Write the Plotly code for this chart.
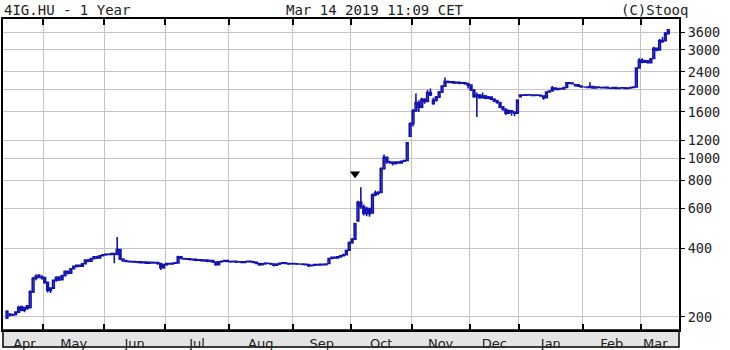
import math
import pandas as pd
import plotly.graph_objects as go

# ---------------- data ----------------
start_date = "2018-04-11"
end_date = "2019-03-14"
exchange_holidays = ["2018-04-30", "2018-05-01", "2018-05-21", "2018-08-20",
                     "2018-10-22", "2018-10-23", "2018-11-01", "2018-11-02",
                     "2018-12-24", "2018-12-25", "2018-12-26", "2018-12-31",
                     "2019-01-01"]

opens = [
    # Apr
    198, 206, 204, 205, 210, 222, 214, 224, 220, 258, 296, 306, 300,
    # May
    298, 284, 262, 268, 290, 300, 292, 304, 318, 312, 326, 334, 338, 335, 343, 356, 352, 362, 368, 364, 372,
    # Jun
    376, 378, 377, 380, 378, 396, 360, 354, 352, 350, 351, 349, 350, 347, 349, 345, 348, 346, 347, 344, 330,
    # Jul
    340, 344, 342, 345, 346, 368, 362, 360, 361, 358, 359, 356, 357, 354, 356, 352, 354, 349, 340, 350, 352, 354,
    # Aug
    351, 350, 352, 349, 350, 348, 350, 352, 350, 348, 344, 340, 343, 345, 344, 342, 338, 342, 345, 346, 344, 343,
    # Sep
    344, 343, 342, 342, 341, 340, 336, 338, 340, 339, 341, 340, 344, 362, 366, 364, 368, 372, 376, 394,
    # Oct
    425, 440, 530, 640, 612, 572, 600, 575, 690, 702, 708, 900, 1010, 965, 958, 948, 962, 955, 970, 978, 1250,
    # Nov
    1420, 1620, 1760, 1680, 1820, 1780, 1950, 1740, 1800, 1860, 1960, 2080, 2180, 2160, 2170, 2150, 2160, 2140, 2150, 2130,
    # Dec
    2100, 2000, 1870, 1900, 1850, 1880, 1840, 1860, 1820, 1790, 1760, 1680, 1640, 1580, 1620, 1600, 1580,
    # Jan
    1870, 1900, 1895, 1905, 1900, 1890, 1900, 1895, 1880, 1850, 1960, 1980, 2040, 2010, 2030, 2020, 2050, 2150, 2140, 2090, 2110, 2080,
    # Feb
    2060, 2060, 2050, 2070, 2040, 2060, 2050, 2045, 2055, 2040, 2035, 2050, 2030, 2040, 2045, 2030, 2040, 2050, 2060, 2500,
    # Mar
    2700, 2650, 2690, 2640, 2750, 3050, 3000, 3300, 3300, 3550,
]
highs = [
    214, 207, 206, 212, 224, 224, 221, 226, 262, 300, 308, 308, 305,
    300, 286, 270, 292, 302, 302, 306, 320, 320, 328, 336, 340, 340, 345, 358, 360, 364, 370, 372, 374, 378,
    380, 381, 382, 384, 450, 398, 362, 356, 355, 354, 353, 352, 352, 351, 351, 350, 350, 349, 349, 346, 342,
    346, 347, 346, 348, 372, 370, 365, 364, 363, 362, 361, 360, 359, 358, 357, 356, 356, 351, 352, 355, 356, 356,
    354, 355, 354, 353, 352, 352, 355, 354, 352, 350, 346, 345, 348, 347, 346, 344, 344, 347, 349, 348, 346, 347,
    346, 345, 345, 344, 343, 342, 340, 342, 342, 343, 343, 344, 364, 369, 368, 371, 375, 380, 396, 430,
    445, 520, 650, 745, 625, 612, 606, 700, 722, 716, 912, 1040, 1015, 975, 970, 970, 968, 975, 985, 1180, 1440,
    1650, 1930, 1800, 1850, 1840, 2000, 2030, 1850, 1880, 1980, 2100, 2270, 2200, 2190, 2185, 2180, 2175, 2170, 2160, 2150,
    2110, 2020, 1950, 1920, 1950, 1900, 1880, 1870, 1840, 1810, 1770, 1700, 1660, 1640, 1630, 1610, 1820,
    1910, 1915, 1910, 1915, 1912, 1910, 1915, 1905, 1890, 1970, 1995, 2080, 2050, 2040, 2045, 2060, 2170, 2170, 2160, 2120, 2120, 2090,
    2075, 2070, 2160, 2075, 2070, 2068, 2060, 2065, 2060, 2050, 2058, 2055, 2050, 2055, 2050, 2050, 2060, 2075, 2520, 2760,
    2760, 2720, 2710, 2760, 3100, 3080, 3350, 3420, 3600, 3700,
]
lows = [
    196, 201, 202, 203, 208, 212, 210, 215, 218, 255, 290, 296, 292,
    280, 256, 255, 266, 286, 288, 290, 302, 308, 310, 324, 330, 332, 334, 341, 348, 350, 358, 360, 362, 370,
    372, 374, 375, 345, 374, 356, 350, 348, 348, 347, 346, 345, 344, 344, 342, 342, 343, 343, 340, 322, 326,
    336, 340, 340, 342, 345, 360, 358, 356, 355, 354, 352, 353, 351, 350, 348, 348, 346, 336, 339, 347, 349, 348,
    347, 348, 346, 347, 345, 346, 348, 347, 345, 341, 336, 338, 340, 341, 339, 334, 336, 339, 342, 341, 339, 340,
    340, 339, 339, 338, 337, 332, 334, 336, 336, 337, 337, 338, 343, 360, 361, 362, 366, 370, 374, 390,
    420, 436, 525, 600, 560, 556, 552, 570, 680, 688, 704, 895, 945, 945, 930, 940, 948, 950, 962, 972, 1240,
    1380, 1600, 1600, 1660, 1740, 1770, 1880, 1720, 1780, 1850, 1940, 2070, 2140, 2140, 2130, 2135, 2120, 2125, 2110, 2030,
    1980, 1850, 1520, 1830, 1840, 1820, 1820, 1800, 1770, 1740, 1660, 1620, 1550, 1570, 1540, 1530, 1570,
    1860, 1885, 1880, 1890, 1880, 1885, 1885, 1870, 1810, 1840, 1950, 1970, 2000, 2000, 2005, 2015, 2040, 2120, 2115, 2080, 2070, 2050,
    2045, 2040, 2040, 2030, 2035, 2040, 2035, 2040, 2030, 2025, 2030, 2020, 2025, 2030, 2020, 2025, 2035, 2045, 2050, 2480,
    2620, 2630, 2620, 2630, 2740, 2960, 2990, 3230, 3290, 3500,
]
closes = [
    212, 204, 205, 210, 220, 214, 220, 218, 258, 296, 302, 300, 298,
    284, 262, 268, 290, 298, 292, 304, 318, 312, 326, 334, 338, 335, 343, 356, 352, 362, 368, 364, 372, 376,
    378, 377, 380, 378, 396, 360, 354, 352, 350, 351, 349, 350, 347, 349, 345, 348, 346, 347, 344, 330, 340,
    344, 342, 345, 346, 368, 362, 360, 361, 358, 359, 356, 357, 354, 356, 352, 354, 349, 340, 350, 352, 354, 351,
    350, 352, 349, 350, 348, 350, 352, 350, 348, 344, 340, 343, 345, 344, 342, 338, 342, 345, 346, 344, 343, 344,
    343, 342, 342, 341, 340, 336, 338, 340, 339, 341, 340, 342, 362, 366, 364, 368, 372, 376, 392, 425,
    440, 515, 640, 612, 572, 600, 570, 690, 702, 708, 900, 1010, 965, 958, 948, 962, 955, 970, 978, 1170, 1420,
    1620, 1760, 1680, 1820, 1780, 1950, 1900, 1800, 1860, 1960, 2080, 2180, 2160, 2170, 2150, 2160, 2140, 2150, 2130, 2100,
    2000, 1870, 1900, 1850, 1880, 1840, 1860, 1820, 1790, 1760, 1680, 1640, 1580, 1620, 1600, 1580, 1800,
    1900, 1895, 1905, 1900, 1890, 1900, 1895, 1880, 1850, 1960, 1980, 2040, 2010, 2030, 2020, 2050, 2150, 2140, 2130, 2110, 2080, 2060,
    2060, 2050, 2070, 2040, 2060, 2050, 2045, 2055, 2040, 2035, 2050, 2030, 2040, 2045, 2030, 2040, 2050, 2060, 2500, 2700,
    2650, 2690, 2640, 2740, 3050, 3000, 3300, 3260, 3550, 3680,
]

month_names = ["Apr", "May", "Jun", "Jul", "Aug", "Sep", "Oct", "Nov", "Dec", "Jan", "Feb", "Mar"]
price_ticks = [200, 400, 600, 800, 1000, 1200, 1600, 2000, 2400, 3000, 3600]
signal_date = "2018-10-02"
signal_price = 854

title_left = "4IG.HU - 1 Year"
title_mid = "Mar 14 2019 11:09 CET"
title_right = "(C)Stooq"

# ---------------- derived ----------------
dates = pd.bdate_range(start_date, end_date)
dates = dates[~dates.isin(pd.to_datetime(exchange_holidays))]
n = len(dates)
idx = list(range(n))

month_keys = [(d.year, d.month) for d in dates]
firsts, lasts = {}, {}
for i, k in enumerate(month_keys):
    firsts.setdefault(k, i)
    lasts[k] = i
ordered = sorted(firsts, key=lambda k: firsts[k])
label_pos = [(firsts[k] - 0.5 + lasts[k] + 0.5) / 2 for k in ordered]
grid_pos = [firsts[k] - 0.5 for k in ordered[1:]]
signal_idx = int(list(dates).index(pd.Timestamp(signal_date)))

BLUE = "#1212b0"
W, H = 730, 350
ML, MR, MT, MB = 3, 51, 19, 20
plot_h = H - MT - MB

fig = go.Figure()
fig.add_trace(go.Candlestick(
    x=idx, open=opens[:n], high=highs[:n], low=lows[:n], close=closes[:n],
    increasing=dict(line=dict(color=BLUE, width=1.6), fillcolor="white"),
    decreasing=dict(line=dict(color=BLUE, width=1.6), fillcolor=BLUE),
    whiskerwidth=0, hoverinfo="skip", showlegend=False,
))
fig.add_trace(go.Scatter(
    x=[signal_idx], y=[signal_price], mode="markers",
    marker=dict(symbol="triangle-down", size=9, color="black"),
    hoverinfo="skip", showlegend=False,
))

# gray month band under the plot
band_h = 17 / plot_h
fig.add_shape(type="rect", xref="paper", yref="paper", x0=0, x1=1, y0=-band_h, y1=0,
              fillcolor="#e4e4e4", line=dict(color="black", width=1.5), layer="below")

mono = "DejaVu Sans Mono"
fig.add_annotation(text=title_left, xref="paper", yref="paper", x=-1 / 676, y=1 + 9 / plot_h,
                   xanchor="left", yanchor="middle", showarrow=False,
                   font=dict(family=mono, size=14, color="#222"))
fig.add_annotation(text=title_mid, xref="paper", yref="paper", x=(375 - ML) / 676, y=1 + 9 / plot_h,
                   xanchor="center", yanchor="middle", showarrow=False,
                   font=dict(family=mono, size=14, color="#222"))
fig.add_annotation(text=title_right, xref="paper", yref="paper", x=(690 - ML) / 676, y=1 + 9 / plot_h,
                   xanchor="right", yanchor="middle", showarrow=False,
                   font=dict(family=mono, size=14, color="#222"))

x_lo = -1.38
x_hi = 231.7
y_lo = math.log10(175.2)
y_hi = math.log10(4108)

fig.update_layout(
    width=W, height=H,
    margin=dict(l=ML, r=MR, t=MT, b=MB, pad=0),
    paper_bgcolor="white", plot_bgcolor="white",
    showlegend=False, boxgap=0.15,
    xaxis=dict(
        range=[x_lo, x_hi], type="linear",
        tickmode="array", tickvals=label_pos, ticktext=month_names,
        ticks="", showgrid=False, zeroline=False,
        showline=True, linecolor="black", linewidth=2, mirror="ticks",
        tickfont=dict(family="DejaVu Sans", size=13, color="#222"),
        minor=dict(tickmode="array", tickvals=grid_pos, ticks="inside", ticklen=6,
                   tickcolor="black", tickwidth=1.5, showgrid=True,
                   gridcolor="#c4c4c4", gridwidth=1.4),
        rangeslider=dict(visible=False), automargin=False, fixedrange=True,
    ),
    yaxis=dict(
        type="log", range=[y_lo, y_hi], side="right",
        tickmode="array", tickvals=price_ticks, ticktext=[str(v) for v in price_ticks],
        ticks="outside", ticklen=4, tickcolor="black", tickwidth=1,
        showgrid=True, gridcolor="#c4c4c4", gridwidth=1.4, zeroline=False,
        showline=True, linecolor="black", linewidth=2, mirror=True,
        tickfont=dict(family=mono, size=13.5, color="#222"),
        automargin=False, fixedrange=True,
    ),
)

fig.write_html("out.html")
